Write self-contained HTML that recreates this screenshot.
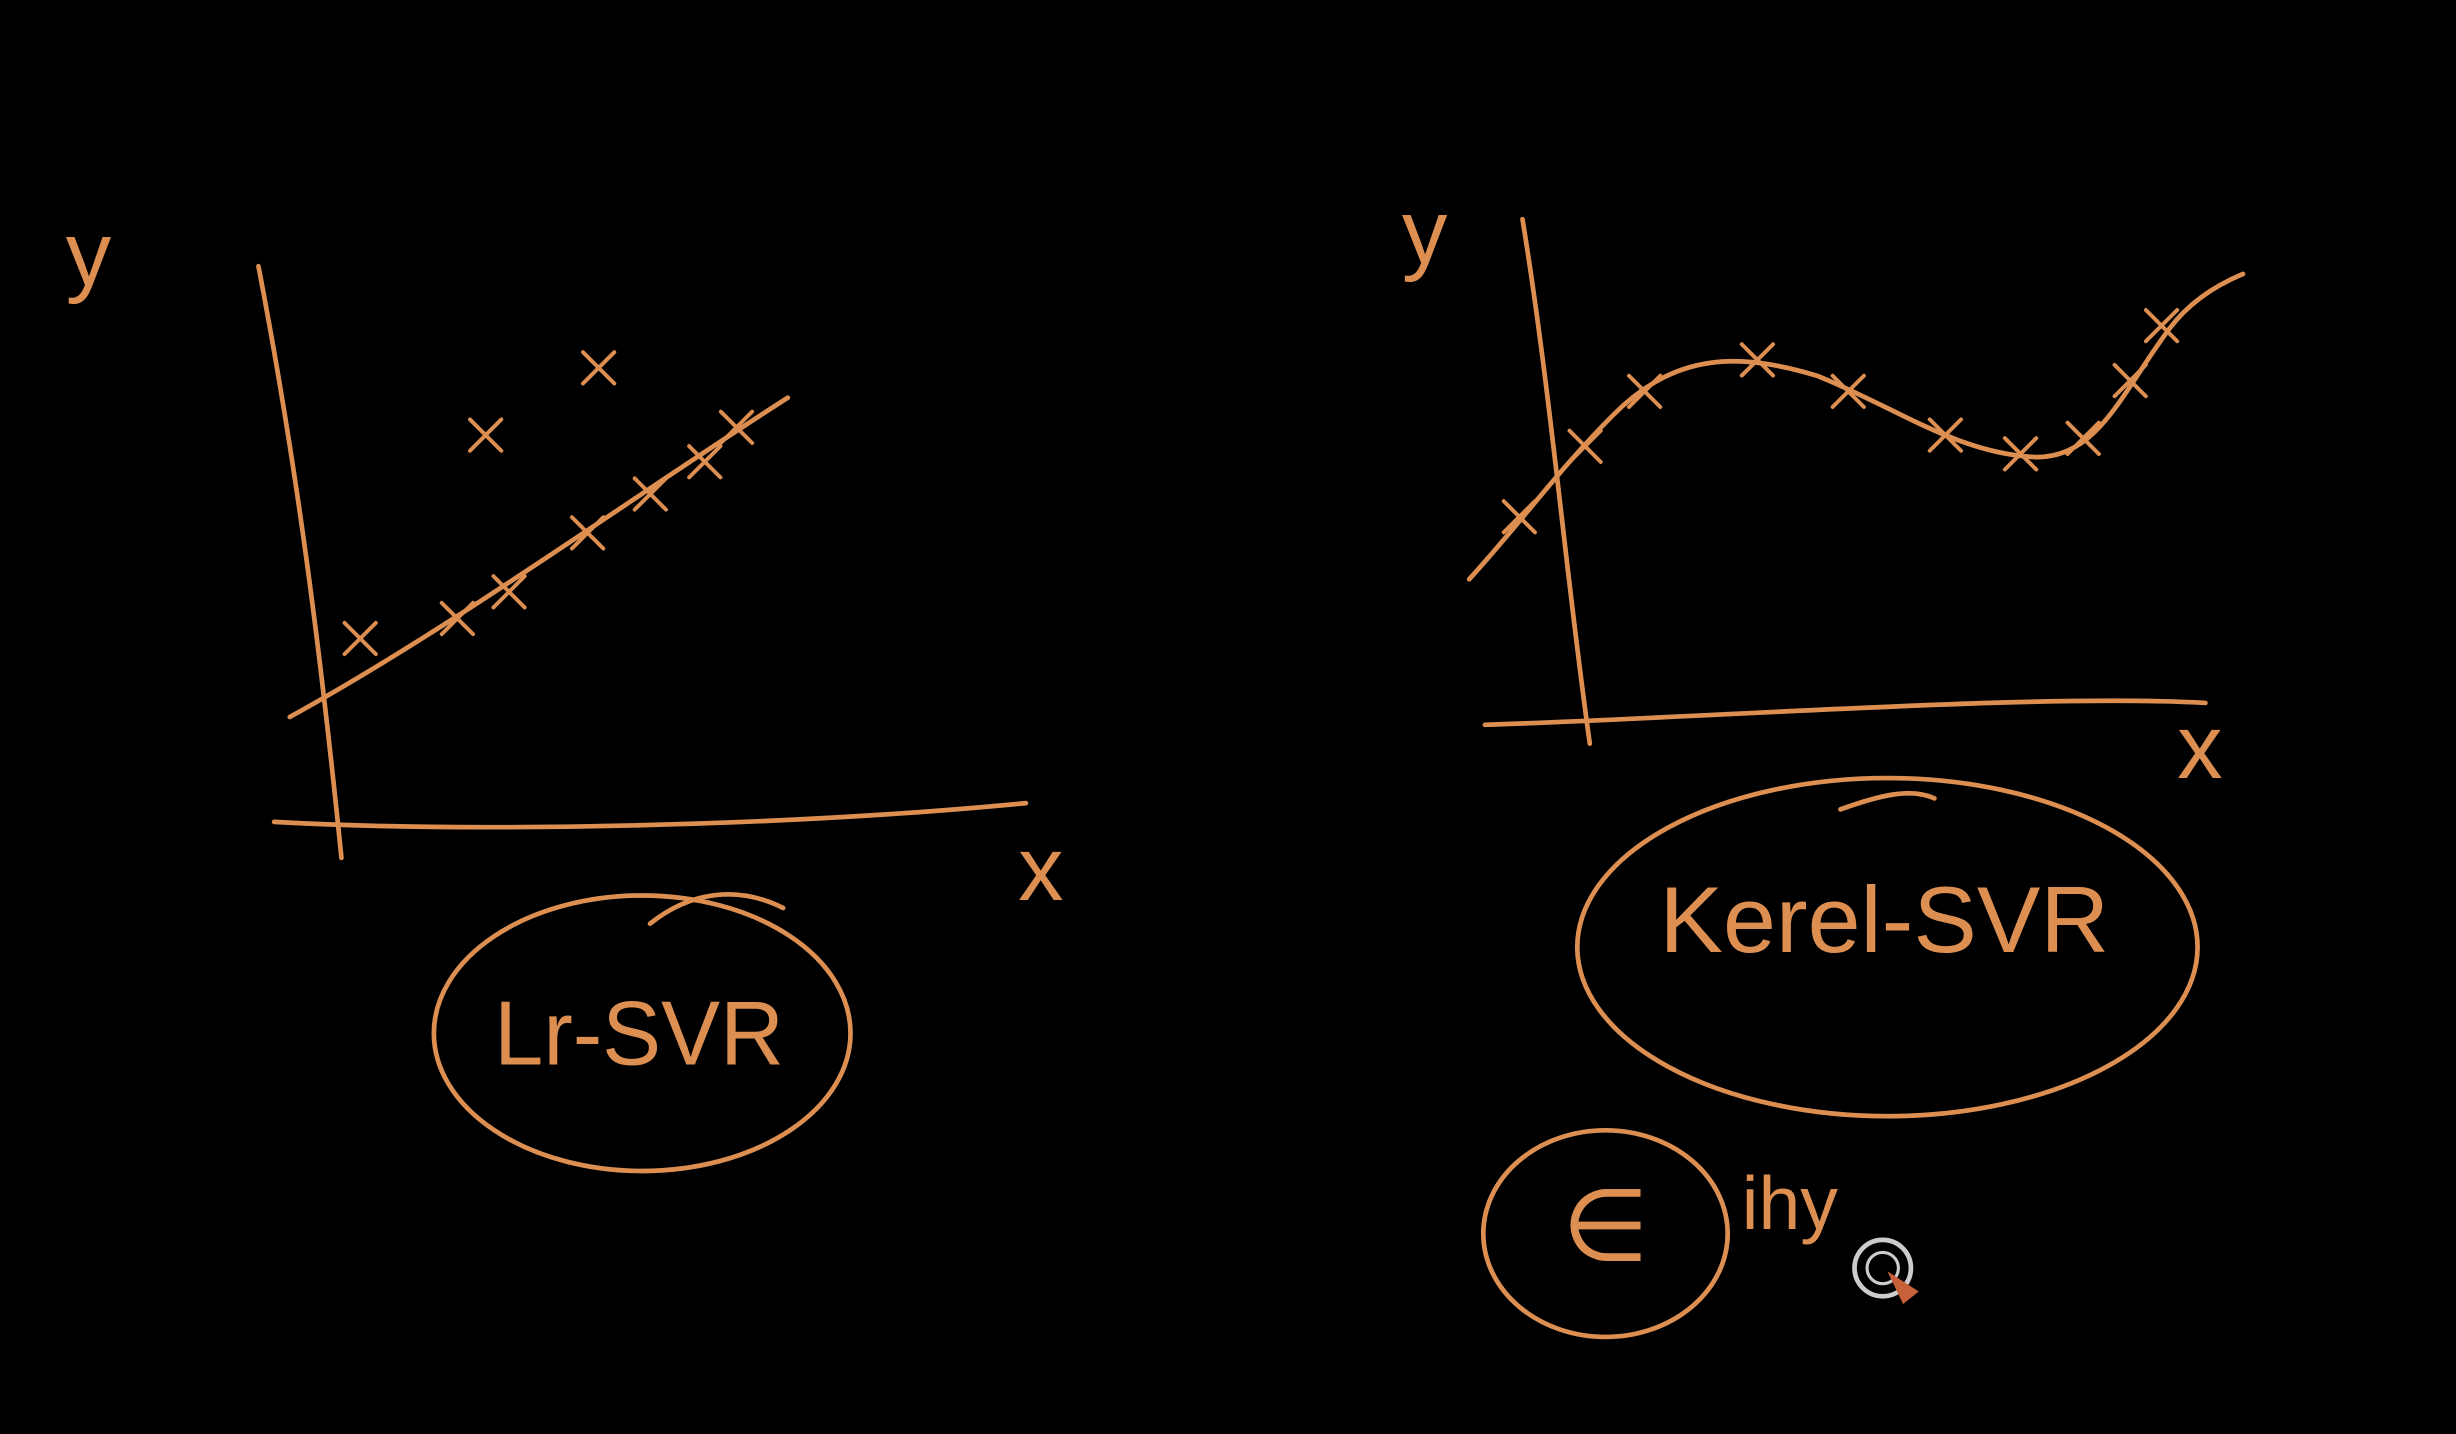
<!DOCTYPE html>
<html><head><meta charset="utf-8"><style>
html,body{margin:0;padding:0;background:#000;width:2456px;height:1434px;overflow:hidden}
svg{display:block}
text{font-family:"Liberation Sans",sans-serif;fill:#dd8f52}
</style></head><body>
<svg id="c" width="2456" height="1434" viewBox="0 0 1568 916" preserveAspectRatio="none">
<rect width="1568" height="916" fill="#000"/>
<g fill="none" stroke="#dd8f52" stroke-width="3" stroke-linecap="round" stroke-linejoin="round">
  <path d="M165 170 C190 300 205 420 218 548"/>
  <path d="M175 525 C300 532 500 528 655 513"/>
  <path d="M185 458 C290 400 400 320 503 254"/>
  <path d="M972 140 C990 250 1000 370 1015 475"/>
  <path d="M948 463 C1100 458 1300 443 1408 449"/>
  <path d="M938 370 C970 335 995 300 1030 265 C1070 225 1110 225 1160 240 C1210 260 1250 290 1300 292 C1340 292 1355 250 1385 210 C1400 190 1420 180 1432 175"/>
  <ellipse cx="410" cy="660" rx="133" ry="88"/>
  <path d="M415 590 C440 570 470 565 500 580"/>
  <ellipse cx="1205" cy="605" rx="198" ry="108"/>
  <path d="M1175 517 C1200 508 1220 503 1235 510"/>
  <ellipse cx="1025" cy="788" rx="78" ry="66"/>
  <circle cx="1202" cy="810" r="18" stroke="#ccc" stroke-width="3"/>
  <circle cx="1202" cy="810" r="10" stroke="#ccc" stroke-width="2"/>
  <g id="marks"></g>
</g>
<path d="M1205 812 L1225 825 L1215 833 Z" fill="#c8603a"/>
<text x="42" y="182" font-size="58">y</text>
<text x="650" y="575" font-size="58">x</text>
<text x="895" y="168" font-size="58">y</text>
<text x="1390" y="497" font-size="58">x</text>
<text x="408" y="680" font-size="58" text-anchor="middle" textLength="185" lengthAdjust="spacingAndGlyphs">Lr-SVR</text>
<text x="1203" y="608" font-size="60" text-anchor="middle" textLength="287" lengthAdjust="spacingAndGlyphs">Kerel-SVR</text>
<text x="1025" y="805" font-size="64" text-anchor="middle" font-weight="300">∈</text>
<text x="1112" y="785" font-size="48">ihy</text>
</svg>
<script>
// Left chart data (x units: 44px, y units: 35.5px; origin at 215,525)
const leftX = [0.34, 1.75, 2.5, 3.64, 4.55, 5.34, 5.8, 2.16, 3.8];
const leftY = [3.3, 3.66, 4.14, 5.2, 5.9, 6.48, 7.1, 6.96, 8.17];
// Right chart data (x units: 40px, y units: 30px; origin at 1012,463)
const rightX = [-1.05, 0.0, 0.95, 2.75, 4.2, 5.75, 6.95, 7.95, 8.7, 9.2];
const rightY = [4.43, 5.93, 7.1, 7.77, 7.1, 6.17, 5.77, 6.1, 7.33, 8.5];

function lx(v){return 215 + v*44;}
function ly(v){return 525 - v*35.5;}
function rx(v){return 1012 + v*40;}
function ry(v){return 463 - v*30;}

const g = document.getElementById('marks');
const NS = 'http://www.w3.org/2000/svg';
function mark(px, py, name){
  const p = document.createElementNS(NS,'path');
  const s = 10;
  p.setAttribute('d', `M${px-s} ${py-s} L${px+s} ${py+s} M${px+s} ${py-s} L${px-s} ${py+s}`);
  p.setAttribute('stroke-width', '2.5');
  
  
  g.appendChild(p);
}
for (let i=0;i<leftX.length;i++){
  mark(lx(leftX[i]), ly(leftY[i]), 'left-data-point');
}
for (let i=0;i<rightX.length;i++){
  mark(rx(rightX[i]), ry(rightY[i]), 'right-data-point');
}
</script>
</body></html>
